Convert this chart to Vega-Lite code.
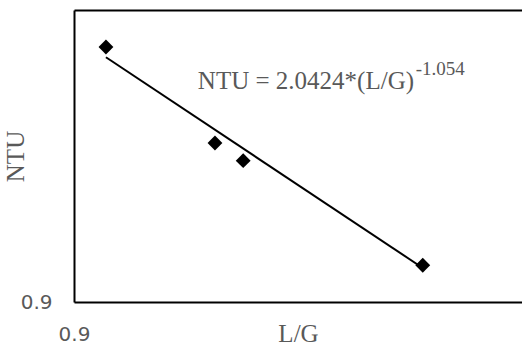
{
  "$schema": "https://vega.github.io/schema/vega-lite/v6.json",
  "width": 448,
  "height": 292,
  "autosize": "none",
  "padding": {"left": 74, "top": 10, "right": 0, "bottom": 43},
  "background": "white",
  "config": {"view": {"stroke": null}, "font": "Liberation Serif"},
  "datasets": {
    "points": [
      {"LG": 0.9658, "NTU": 2.1966},
      {"LG": 1.2286, "NTU": 1.570},
      {"LG": 1.3076, "NTU": 1.4757},
      {"LG": 1.9438, "NTU": 1.0235}
    ],
    "fit": [
      {"LG": 0.9658, "NTU": 2.1188},
      {"LG": 1.9438, "NTU": 1.0138}
    ],
    "eq": [
      {"LG": 1.1831, "NTU": 1.8968, "label": "NTU = 2.0424*(L/G)"}
    ],
    "sup": [
      {"LG": 1.914, "NTU": 1.9918, "label": "-1.054"}
    ]
  },
  "resolve": {"axis": {"x": "independent"}},
  "layer": [
    {
      "data": {"name": "fit"},
      "mark": {"type": "line", "color": "black", "strokeWidth": 2},
      "encoding": {
        "x": {
          "field": "LG", "type": "quantitative",
          "scale": {"type": "log", "domain": [0.9, 2.42], "nice": false, "zero": false},
          "axis": {
            "orient": "bottom", "title": "L/G", "values": [0.9], "grid": false,
            "tickSize": 0, "labelPadding": 22, "labelFont": "DejaVu Sans", "labelFontSize": 20,
            "labelColor": "#595959", "labelAlign": "center", "labelFlush": false,
            "domainColor": "black", "domainWidth": 2,
            "titleFont": "Liberation Serif", "titleFontSize": 25, "titleFontWeight": "normal",
            "titleColor": "#595959", "titlePadding": -23
          }
        },
        "y": {
          "field": "NTU", "type": "quantitative",
          "scale": {"type": "log", "domain": [0.9, 2.5], "nice": false, "zero": false},
          "axis": {
            "title": "NTU", "values": [0.9], "grid": false,
            "tickSize": 0, "labelPadding": 22, "labelFont": "DejaVu Sans", "labelFontSize": 20,
            "labelColor": "#595959", "labelFlush": false, "labelBaseline": "middle",
            "domainColor": "black", "domainWidth": 2,
            "titleFont": "Liberation Serif", "titleFontSize": 25, "titleFontWeight": "normal",
            "titleColor": "#595959", "titlePadding": -8
          }
        }
      }
    },
    {
      "data": {"name": "points"},
      "mark": {"type": "point", "shape": "diamond", "filled": true, "color": "black", "size": 220, "opacity": 1},
      "encoding": {
        "x": {
          "field": "LG", "type": "quantitative",
          "axis": {"orient": "top", "title": null, "labels": false, "ticks": false, "grid": false, "domainColor": "black", "domainWidth": 2}
        },
        "y": {"field": "NTU", "type": "quantitative"}
      }
    },
    {
      "data": {"name": "eq"},
      "mark": {"type": "text", "align": "left", "baseline": "alphabetic", "font": "Liberation Serif", "fontSize": 25, "color": "#595959"},
      "encoding": {
        "x": {"field": "LG", "type": "quantitative", "axis": null},
        "y": {"field": "NTU", "type": "quantitative"},
        "text": {"field": "label"}
      }
    },
    {
      "data": {"name": "sup"},
      "mark": {"type": "text", "align": "left", "baseline": "alphabetic", "font": "Liberation Serif", "fontSize": 19, "color": "#595959"},
      "encoding": {
        "x": {"field": "LG", "type": "quantitative", "axis": null},
        "y": {"field": "NTU", "type": "quantitative"},
        "text": {"field": "label"}
      }
    }
  ]
}
